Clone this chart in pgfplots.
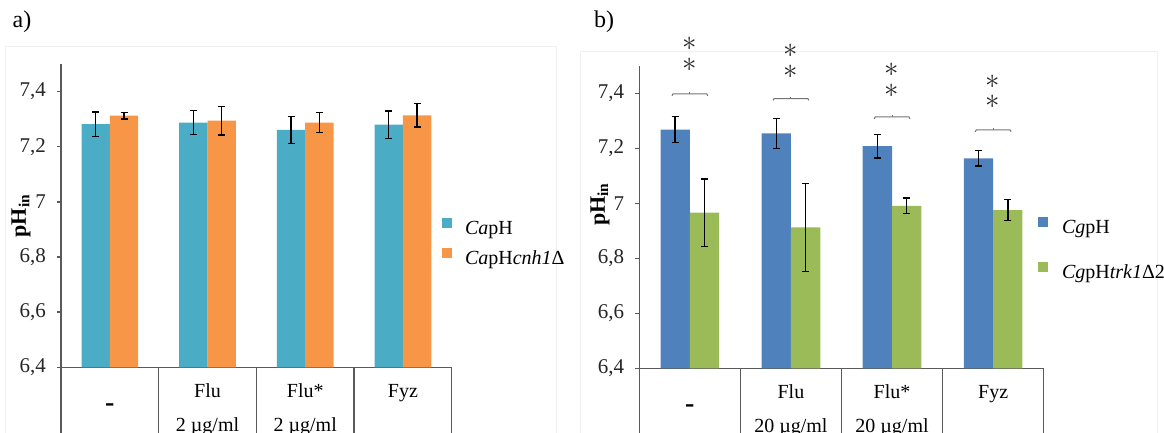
\documentclass[border=0pt]{standalone}
\usepackage{pgfplots}
\pgfplotsset{compat=1.18}
\usepackage{pgfplotstable}
\usepackage{fontspec}
\setmainfont{Liberation Serif}
\definecolor{caph}{HTML}{4BACC6}
\definecolor{cnh}{HTML}{F79646}
\definecolor{cgph}{HTML}{4F81BD}
\definecolor{trk}{HTML}{9BBB59}
\definecolor{axgray}{HTML}{5A5A5A}
\tikzset{tablelines/.style={axgray, line width=0.7pt},
  brk/.style={black!55, line width=0.5pt},
  star/.style={font=\fontsize{14.4}{10.2}\selectfont, align=center, black!85, inner sep=0pt}}

\pgfplotstableread{
x y e
0 7.282 0.044
1 7.288 0.043
2 7.261 0.049
3 7.280 0.050
}\capH
\pgfplotstableread{
x y e
0 7.313 0.012
1 7.295 0.052
2 7.288 0.037
3 7.314 0.042
}\capHcnh
\pgfplotstableread{
x y e
0 7.268 0.047
1 7.254 0.054
2 7.208 0.043
3 7.163 0.028
}\cgpH
\pgfplotstableread{
x y e
0 6.966 0.123
1 6.912 0.160
2 6.991 0.028
3 6.975 0.038
}\cgpHtrk

\pgfplotsset{
  phbase/.style={
    scale only axis,
    ybar=0pt, bar width=0.29,
    xmin=-0.5, xmax=3.5, ymin=6.4, ymax=7.5,
    axis x line=bottom, axis y line=left,
    axis line style={-, draw=axgray, line width=0.7pt},
    x axis line style={-}, y axis line style={-},
    xtick=\empty,
    ytick={6.4,6.6,6.8,7,7.2,7.4},
    tick align=outside, major tick length=2pt,
    tick style={axgray, line width=0.7pt},
    yticklabel style={/pgf/number format/use comma, /pgf/number format/fixed, /pgf/number format/precision=1, /pgf/number format/assume math mode=true},
    yticklabel style={font=\fontsize{10.5}{12}\selectfont, black!85, xshift=-2pt},
    clip=false,
    legend image code/.code={\fill[##1] (0pt,0.8pt) rectangle (5pt,5.8pt);},
    legend cell align=left,
    ylabel={\textbf{pH}\textsubscript{\textbf{in}}},
    ylabel style={font=\fontsize{11}{13}\selectfont, anchor=center},
  },
  ebars/.style={error bars/.cd, y dir=both, y explicit,
    error bar style={black, line width=0.7pt},
    error mark options={rotate=90, mark size=1.75pt, line width=0.7pt, black}},
}

\begin{document}
\begin{tikzpicture}
% faint chart-area frames
\draw[black!6, line width=0.5pt] (2.5pt,-240pt) -- (2.5pt,-23.5pt) -- (278.3pt,-23.5pt) -- (278.3pt,-240pt);
\draw[black!6, line width=0.5pt] (290pt,-240pt) -- (290pt,-25.8pt) -- (578.5pt,-25.8pt) -- (578.5pt,-240pt);
% panel a
\node[font=\fontsize{12}{14}\selectfont] at (11pt,-11pt) {a)};
\begin{axis}[phbase,
  at={(30.5pt,-183.65pt)}, anchor=south west,
  width=195.4pt, height=151.6pt,
  ylabel style={at={(axis description cs:-0.102,0.5)}},
  legend style={at={(axis description cs:0.974,0.409)}, anchor=west,
    draw=none, fill=none, inner sep=0pt, column sep=6.5pt, row sep=4.85pt,
    font=\fontsize{10}{12}\selectfont,
    nodes={inner sep=0pt, text height=7pt, text depth=2pt}},
]
\addplot[fill=caph, draw=none, ebars] table[x=x, y=y, y error=e] {\capH};
\addplot[fill=cnh, draw=none, ebars] table[x=x, y=y, y error=e] {\capHcnh};
\legend{\textit{Ca}pH, \textit{Ca}pH\textit{cnh1}Δ}
\draw[tablelines] (axis cs:-0.5,6.4) -- (axis cs:-0.5,6.1);
\draw[tablelines] (axis cs:0.5,6.4) -- (axis cs:0.5,6.1);
\draw[tablelines] (axis cs:1.5,6.4) -- (axis cs:1.5,6.1);
\draw[tablelines] (axis cs:2.5,6.4) -- (axis cs:2.5,6.1);
\draw[tablelines] (axis cs:3.5,6.4) -- (axis cs:3.5,6.1);
\node[anchor=base, font=\fontsize{10}{12}\selectfont] at (axis cs:1,6.4) [yshift=-15pt] {Flu};
\node[anchor=base, font=\fontsize{10}{12}\selectfont] at (axis cs:1,6.4) [yshift=-32.1pt] {2 µg/ml};
\node[anchor=base, font=\fontsize{10}{12}\selectfont] at (axis cs:2,6.4) [yshift=-15pt] {Flu*};
\node[anchor=base, font=\fontsize{10}{12}\selectfont] at (axis cs:2,6.4) [yshift=-32.1pt] {2 µg/ml};
\node[anchor=base, font=\fontsize{10}{12}\selectfont] at (axis cs:3,6.4) [yshift=-15pt] {Fyz};
\node[anchor=base, font=\bfseries\fontsize{14}{16}\selectfont] at (axis cs:0,6.4) [yshift=-22pt] {-};
\end{axis}

% panel b
\node[font=\fontsize{12}{14}\selectfont] at (302pt,-11pt) {b)};
\begin{axis}[phbase,
  at={(319.65pt,-184.15pt)}, anchor=south west,
  width=202.2pt, height=151.25pt,
  ylabel style={at={(axis description cs:-0.097,0.543)}},
  legend style={at={(axis description cs:0.985,0.3927)}, anchor=west,
    draw=none, fill=none, inner sep=0pt, column sep=7pt, row sep=12.1pt,
    font=\fontsize{10}{12}\selectfont,
    nodes={inner sep=0pt, text height=7pt, text depth=2pt}},
]
\addplot[fill=cgph, draw=none, ebars] table[x=x, y=y, y error=e] {\cgpH};
\addplot[fill=trk, draw=none, ebars] table[x=x, y=y, y error=e] {\cgpHtrk};
\legend{\textit{Cg}pH, \textit{Cg}pH\textit{trk1}Δ2}
\draw[tablelines] (axis cs:-0.5,6.4) -- (axis cs:-0.5,6.1);
\draw[tablelines] (axis cs:0.5,6.4) -- (axis cs:0.5,6.1);
\draw[tablelines] (axis cs:1.5,6.4) -- (axis cs:1.5,6.1);
\draw[tablelines] (axis cs:2.5,6.4) -- (axis cs:2.5,6.1);
\draw[tablelines] (axis cs:3.5,6.4) -- (axis cs:3.5,6.1);
\node[anchor=base, font=\fontsize{10}{12}\selectfont] at (axis cs:1,6.4) [yshift=-15pt] {Flu};
\node[anchor=base, font=\fontsize{10}{12}\selectfont] at (axis cs:1,6.4) [yshift=-32.1pt] {20 µg/ml};
\node[anchor=base, font=\fontsize{10}{12}\selectfont] at (axis cs:2,6.4) [yshift=-15pt] {Flu*};
\node[anchor=base, font=\fontsize{10}{12}\selectfont] at (axis cs:2,6.4) [yshift=-32.1pt] {20 µg/ml};
\node[anchor=base, font=\fontsize{10}{12}\selectfont] at (axis cs:3,6.4) [yshift=-15pt] {Fyz};
\node[anchor=base, font=\bfseries\fontsize{14}{16}\selectfont] at (axis cs:0,6.4) [yshift=-22pt] {-};
% significance brackets
\draw[brk] (axis cs:-0.177,7.391) -- (axis cs:-0.167,7.398) -- (axis cs:0.167,7.398) -- (axis cs:0.177,7.391);
\draw[brk] (axis cs:0,7.398) -- (axis cs:0,7.404);
\draw[brk] (axis cs:0.823,7.374) -- (axis cs:0.833,7.381) -- (axis cs:1.167,7.381) -- (axis cs:1.177,7.374);
\draw[brk] (axis cs:1,7.381) -- (axis cs:1,7.387);
\draw[brk] (axis cs:1.823,7.307) -- (axis cs:1.833,7.314) -- (axis cs:2.167,7.314) -- (axis cs:2.177,7.307);
\draw[brk] (axis cs:2,7.314) -- (axis cs:2,7.320);
\draw[brk] (axis cs:2.823,7.260) -- (axis cs:2.833,7.267) -- (axis cs:3.167,7.267) -- (axis cs:3.177,7.260);
\draw[brk] (axis cs:3,7.267) -- (axis cs:3,7.273);
\node[star] at (axis cs:0,7.5425) {$\ast$\\$\ast$};
\node[star] at (axis cs:1,7.516) {$\ast$\\$\ast$};
\node[star] at (axis cs:2,7.447) {$\ast$\\$\ast$};
\node[star] at (axis cs:3,7.406) {$\ast$\\$\ast$};
\end{axis}
\pgfresetboundingbox
\useasboundingbox (0pt,0pt) rectangle (582pt,-216.5pt);
\end{tikzpicture}
\end{document}
